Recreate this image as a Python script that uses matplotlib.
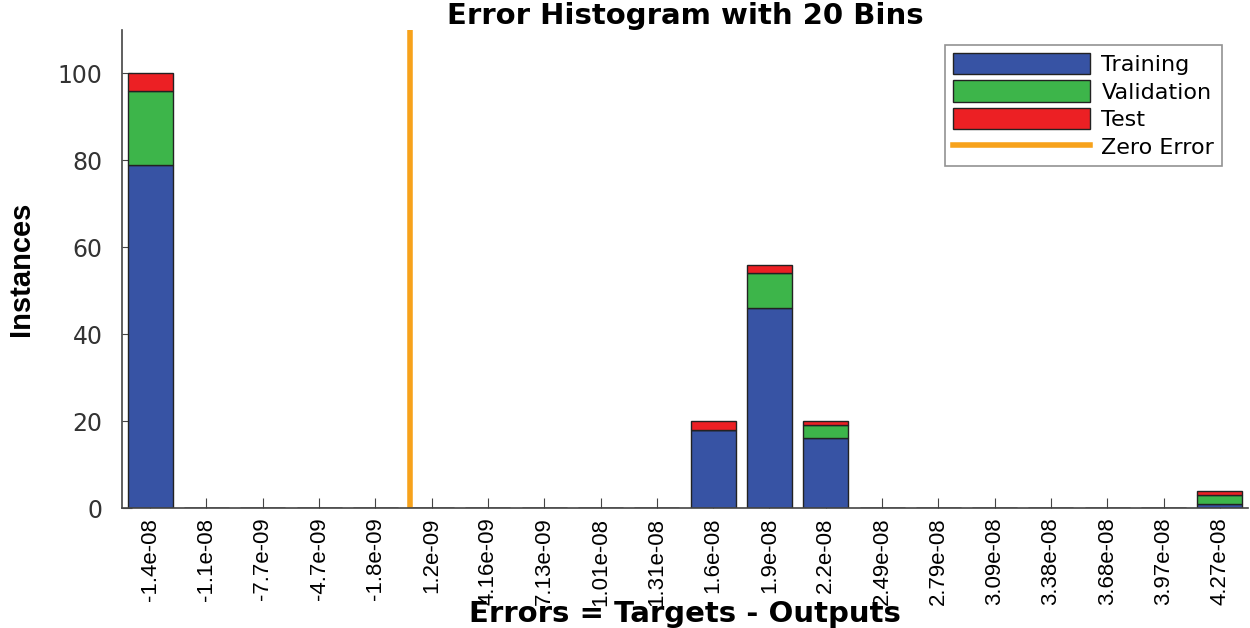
import numpy as np
import matplotlib
matplotlib.use('Agg')
import matplotlib.pyplot as plt
from matplotlib.lines import Line2D

# bin centres as shown on the x axis
bin_labels = ['-1.4e-08', '-1.1e-08', '-7.7e-09', '-4.7e-09', '-1.8e-09',
              '1.2e-09', '4.16e-09', '7.13e-09', '1.01e-08', '1.31e-08',
              '1.6e-08', '1.9e-08', '2.2e-08', '2.49e-08', '2.79e-08',
              '3.09e-08', '3.38e-08', '3.68e-08', '3.97e-08', '4.27e-08']
training = [79, 0, 0, 0, 0, 0, 0, 0, 0, 0, 18, 46, 16, 0, 0, 0, 0, 0, 0, 1]
validation = [17, 0, 0, 0, 0, 0, 0, 0, 0, 0, 0, 8, 3, 0, 0, 0, 0, 0, 0, 2]
test = [4, 0, 0, 0, 0, 0, 0, 0, 0, 0, 2, 2, 1, 0, 0, 0, 0, 0, 0, 1]
zero_error_pos = 4.61  # position of zero error in bin units

fig = plt.figure(figsize=(12.5, 6.28), dpi=100)
ax = fig.add_axes([122/1250, 1-508/628, (1248-122)/1250, (508-30)/628])
ax.set_axisbelow(True)

x = np.arange(len(bin_labels))
tr = np.array(training)
va = np.array(validation)
te = np.array(test)

blue = '#3753a4'
green = '#3db54a'
red = '#ec2024'
edge = '#222222'

ax.bar(x, tr, width=0.8, color=blue, edgecolor=edge, linewidth=1)
ax.bar(x, va, width=0.8, bottom=tr, color=green, edgecolor=edge, linewidth=1)
ax.bar(x, te, width=0.8, bottom=tr+va, color=red, edgecolor=edge, linewidth=1)
ax.axvline(zero_error_pos, color='#f7a21b', linewidth=4)

ax.set_xlim(-0.5, 19.5)
ax.set_ylim(0, 110)
ax.set_yticks([0, 20, 40, 60, 80, 100])
ax.set_xticks(x)
ax.set_xticklabels(bin_labels, rotation=90, fontsize=16, family='Liberation Sans')
ax.set_yticklabels(['0', '20', '40', '60', '80', '100'], fontsize=17,
                   family='DejaVu Sans', color='#333333')

for s in ['top', 'right']:
    ax.spines[s].set_visible(False)
for s in ['left', 'bottom']:
    ax.spines[s].set_color('#444444')
    ax.spines[s].set_linewidth(1.2)
ax.tick_params(direction='in', length=7, color='#444444')
ax.tick_params(axis='x', pad=7)
ax.tick_params(axis='y', pad=14)

ax.set_title('Error Histogram with 20 Bins', fontsize=21, fontweight='bold',
             family='DejaVu Sans', pad=3)
ax.set_xlabel('Errors = Targets - Outputs', fontsize=21, fontweight='bold',
              family='DejaVu Sans', labelpad=-4)
ax.set_ylabel('Instances', fontsize=21, fontweight='bold',
              family='Liberation Sans', labelpad=16)

handles = [plt.Rectangle((0, 0), 1, 1, facecolor=blue, edgecolor=edge),
           plt.Rectangle((0, 0), 1, 1, facecolor=green, edgecolor=edge),
           plt.Rectangle((0, 0), 1, 1, facecolor=red, edgecolor=edge),
           Line2D([0], [0], color='#f7a21b', linewidth=4)]
leg = ax.legend(handles, ['Training', 'Validation', 'Test', 'Zero Error'],
                loc='upper right', bbox_to_anchor=(0.977, 0.969),
                fancybox=False, edgecolor='#777777', handlelength=6.2,
                handleheight=1.1, handletextpad=0.5, labelspacing=0.25,
                borderpad=0.35, borderaxespad=0,
                prop={'family': 'DejaVu Sans', 'size': 16})
leg.get_frame().set_linewidth(1.2)

fig.savefig('out.png', dpi=100)
